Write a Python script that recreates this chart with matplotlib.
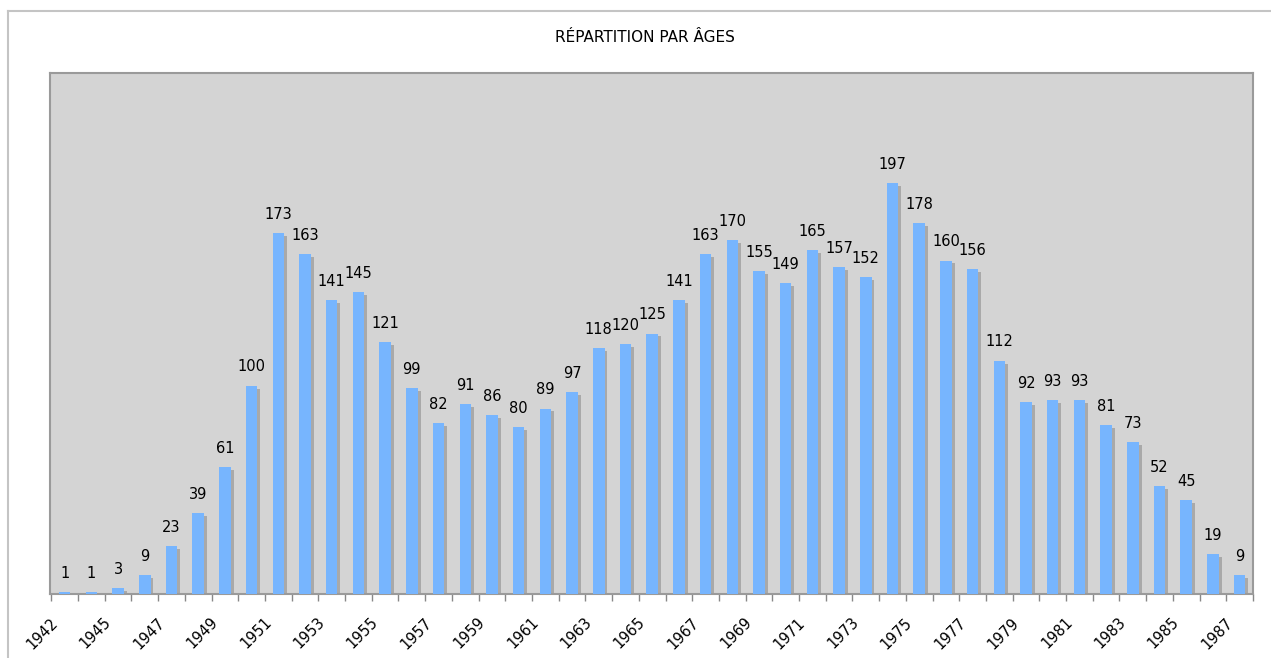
import matplotlib.pyplot as plt
import numpy as np
from matplotlib.lines import Line2D

# données du graphique
annees = ['1942', '1944', '1945', '1946', '1947', '1948', '1949', '1950', '1951',
          '1952', '1953', '1954', '1955', '1956', '1957', '1958', '1959', '1960',
          '1961', '1962', '1963', '1964', '1965', '1966', '1967', '1968', '1969',
          '1970', '1971', '1972', '1973', '1974', '1975', '1976', '1977', '1978',
          '1979', '1980', '1981', '1982', '1983', '1984', '1985', '1986', '1987']
effectifs = [1, 1, 3, 9, 23, 39, 61, 100, 173, 163, 141, 145, 121, 99, 82, 91,
             86, 80, 89, 97, 118, 120, 125, 141, 163, 170, 155, 149, 165, 157,
             152, 197, 178, 160, 156, 112, 92, 93, 93, 81, 73, 52, 45, 19, 9]
titre = 'RÉPARTITION PAR ÂGES'

plt.rcParams['font.family'] = ['DejaVu Sans']

fig = plt.figure(figsize=(12.71, 6.58), dpi=100)
ax = fig.add_axes([50 / 1271, 64 / 658, 1203 / 1271, 521 / 658])
ax.set_facecolor('#d4d4d4')

x = np.arange(len(annees))
vals = np.array(effectifs, dtype=float)

# ombre puis barre
ax.bar(x + 0.11, np.maximum(vals - 1.4, 0), width=0.43, color='#a9a9a9', zorder=2)
ax.bar(x, vals, width=0.43, color='#77b5fe', zorder=3)

for xi, v in zip(x, effectifs):
    ax.annotate(str(v), (xi, v), xytext=(0, 8), textcoords='offset points',
                ha='center', va='bottom', fontsize=10.5, color='black', zorder=4)

ax.set_xlim(-0.5, len(annees) - 0.5)
ax.set_ylim(0, 250)
ax.set_yticks([])

# graduations aux limites des catégories, étiquettes une sur deux
ax.set_xticks(np.arange(len(annees) + 1) - 0.5, minor=True)
ax.tick_params(axis='x', which='minor', length=5, color='#888888', width=1)
idx = np.arange(0, len(annees), 2)
ax.set_xticks(idx - 0.55)
ax.set_xticklabels([annees[i] for i in idx], rotation=45, ha='right',
                   rotation_mode='anchor', fontsize=10.5)
ax.tick_params(axis='x', which='major', length=0, pad=15)

for s in ax.spines.values():
    s.set_color('#9a9a9a')
    s.set_linewidth(1.5)

fig.text(645 / 1271, 1 - 38 / 658, titre, ha='center', va='center', fontsize=11)

# cadre extérieur
fig.add_artist(Line2D([7.5 / 1271, 1], [1 - 10.5 / 658, 1 - 10.5 / 658],
                      transform=fig.transFigure, color='#c4c4c4', lw=1.5))
fig.add_artist(Line2D([7.5 / 1271, 7.5 / 1271], [0, 1 - 10.5 / 658],
                      transform=fig.transFigure, color='#c4c4c4', lw=1.5))

fig.savefig('out.png', dpi=100)
